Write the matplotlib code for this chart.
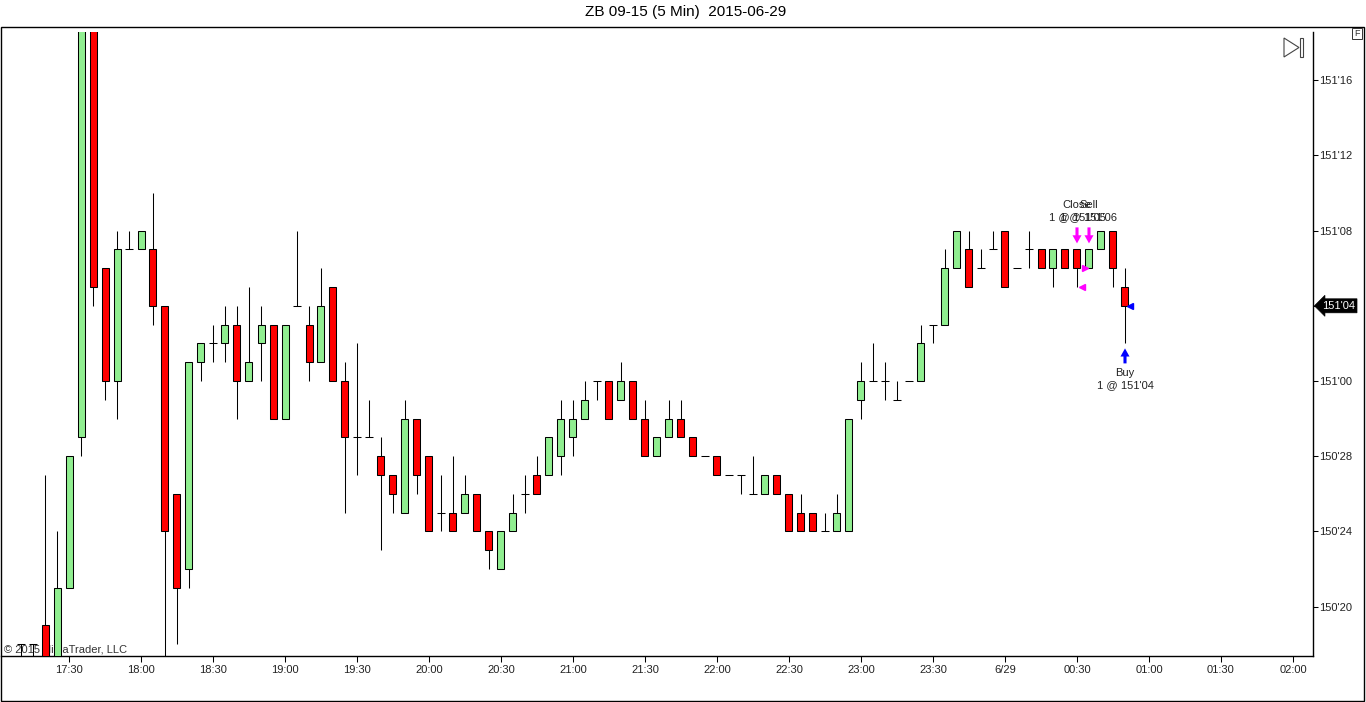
import matplotlib
matplotlib.use('Agg')
import matplotlib.pyplot as plt
from matplotlib.patches import Rectangle, Polygon
import matplotlib.transforms as mtransforms

plt.rcParams['font.family'] = ['Liberation Sans', 'DejaVu Sans']

TITLE = "ZB 09-15 (5 Min)  2015-06-29"
COPYRIGHT = "\u00a9 2015 NinjaTrader, LLC"

# 5-minute bars, prices in 1/32 ticks above 150'00
times = ["17:10", "17:15", "17:20", "17:25", "17:30", "17:35", "17:40", "17:45", "17:50", "17:55",
         "18:00", "18:05", "18:10", "18:15", "18:20", "18:25", "18:30", "18:35", "18:40", "18:45",
         "18:50", "18:55", "19:00", "19:05", "19:10", "19:15", "19:20", "19:25", "19:30", "19:35",
         "19:40", "19:45", "19:50", "19:55", "20:00", "20:05", "20:10", "20:15", "20:20", "20:25",
         "20:30", "20:35", "20:40", "20:45", "20:50", "20:55", "21:00", "21:05", "21:10", "21:15",
         "21:20", "21:25", "21:30", "21:35", "21:40", "21:45", "21:50", "21:55", "22:00", "22:05",
         "22:10", "22:15", "22:20", "22:25", "22:30", "22:35", "22:40", "22:45", "22:50", "22:55",
         "23:00", "23:05", "23:10", "23:15", "23:20", "23:25", "23:30", "23:35", "23:40", "23:45",
         "23:50", "23:55", "00:00", "00:05", "00:10", "00:15", "00:20", "00:25", "00:30", "00:35",
         "00:40", "00:45", "00:50"]
opens = [18, 18, 19, 16, 21, 29, 52, 38, 32, 39,
         39, 39, 36, 26, 22, 33, 34, 34, 35, 32,
         34, 35, 30, 36, 35, 33, 37, 32, 29, 29,
         28, 27, 25, 30, 28, 25, 25, 25, 26, 24,
         22, 24, 26, 27, 27, 28, 29, 30, 32, 32,
         31, 32, 30, 28, 29, 30, 29, 28, 28, 27,
         27, 26, 26, 27, 26, 25, 25, 24, 24, 24,
         31, 32, 32, 31, 32, 32, 35, 35, 38, 39,
         38, 39, 40, 38, 39, 39, 38, 39, 39, 38,
         39, 40, 37]
highs = [18, 18, 27, 24, 28, 53, 53, 38, 40, 40,
         40, 42, 36, 26, 33, 34, 35, 36, 36, 37,
         36, 35, 35, 40, 36, 38, 37, 33, 34, 31,
         29, 27, 31, 30, 28, 27, 28, 27, 26, 24,
         24, 26, 27, 28, 29, 31, 31, 32, 32, 32,
         33, 32, 31, 29, 31, 31, 29, 28, 28, 27,
         27, 28, 27, 27, 26, 26, 25, 25, 26, 30,
         33, 34, 33, 32, 32, 35, 35, 39, 40, 40,
         39, 40, 40, 38, 40, 39, 39, 39, 39, 39,
         40, 40, 38]
lows = [16, 16, 15, 16, 21, 28, 36, 31, 30, 39,
        39, 35, 16, 18, 21, 32, 33, 33, 30, 32,
        32, 30, 30, 36, 32, 33, 32, 25, 27, 29,
        23, 25, 25, 26, 24, 24, 24, 25, 24, 22,
        22, 24, 25, 26, 27, 27, 28, 30, 31, 30,
        31, 30, 28, 28, 29, 29, 28, 28, 27, 27,
        26, 26, 26, 26, 24, 24, 24, 24, 24, 24,
        30, 32, 31, 31, 32, 32, 34, 35, 38, 37,
        38, 39, 37, 38, 38, 38, 37, 38, 37, 38,
        39, 37, 34]
closes = [18, 18, 16, 21, 28, 52, 37, 32, 39, 39,
          40, 36, 24, 21, 33, 34, 34, 35, 32, 33,
          35, 30, 35, 36, 33, 36, 32, 29, 29, 29,
          27, 26, 30, 27, 24, 25, 24, 26, 24, 23,
          24, 25, 26, 26, 29, 30, 30, 31, 32, 30,
          32, 30, 28, 29, 30, 29, 28, 28, 27, 27,
          27, 26, 27, 26, 24, 24, 24, 24, 25, 30,
          32, 32, 32, 31, 32, 34, 35, 38, 40, 37,
          38, 39, 37, 38, 39, 38, 39, 38, 38, 39,
          40, 38, 36]

x_tick_labels = ["17:30", "18:00", "18:30", "19:00", "19:30", "20:00", "20:30", "21:00", "21:30",
                 "22:00", "22:30", "23:00", "23:30", "6/29", "00:30", "01:00", "01:30", "02:00"]
x_tick_times = ["17:30", "18:00", "18:30", "19:00", "19:30", "20:00", "20:30", "21:00", "21:30",
                "22:00", "22:30", "23:00", "23:30", "00:00", "00:30", "01:00", "01:30", "02:00"]
y_tick_values = [20, 24, 28, 32, 36, 40, 44, 48]

exec_names = ["Close", "Sell", "Buy"]
exec_times = ["00:30", "00:35", "00:50"]
exec_prices = [37, 38, 36]
exec_colors = ["#FF00FF", "#FF00FF", "#0000FF"]

GREEN = "#90EE90"
RED = "#FF0000"


def to_min(s):
    h, m = map(int, s.split(":"))
    if h < 12:
        h += 24
    return h * 60 + m - (17 * 60 + 30)


def fmt_price(t):
    return f"{150 + t // 32}'{t % 32:02d}"


W, H = 1366, 702
fig = plt.figure(figsize=(W / 100, H / 100), dpi=100)


def fx(px):
    return px / W


def fy(py):
    return 1 - py / H


ax = fig.add_axes([fx(1), fy(656), fx(1313) - fx(1), fy(32) - fy(656)])
PXM = 12 / 5.0  # pixels per minute
PXT = 18.8      # pixels per tick
ax.set_xlim(-68 / PXM, 1244 / PXM)
ax.set_ylim(32 - (656 - 381) / PXT, 32 + (381 - 32) / PXT)

xs = [to_min(t) for t in times]
bw = 7 / PXM
dw = 8 / PXM
LW = 0.75

for x, o, h, l, c in zip(xs, opens, highs, lows, closes):
    if h > l:
        ax.vlines(x, l, h, color="black", lw=LW, zorder=2)
    if o == c:
        ax.hlines(o, x - dw / 2, x + dw / 2, color="black", lw=LW, zorder=3)
    else:
        ax.add_patch(Rectangle((x - bw / 2, min(o, c)), bw, abs(c - o),
                               facecolor=GREEN if c > o else RED,
                               edgecolor="black", lw=LW, zorder=3))

# executions
bar_index = {t: i for i, t in enumerate(times)}
for name, t, p, col in zip(exec_names, exec_times, exec_prices, exec_colors):
    i = bar_index[t]
    x = to_min(t)
    if name == "Buy":
        base = lows[i]
        tip, tail, l1, l2 = -5, -20, -30, -42
        mk, mx = "<", 5
    else:
        base = highs[i]
        tip, tail, l1, l2 = 6, 22, 44, 32
        mk, mx = (">", -4) if name == "Sell" else ("<", 5)
    tr_tip = mtransforms.offset_copy(ax.transData, fig=fig, x=0, y=tip, units="dots")
    ax.annotate("", xy=(x, base), xycoords=tr_tip,
                xytext=(0, tail - tip), textcoords="offset pixels",
                arrowprops=dict(arrowstyle="simple,head_length=0.45,head_width=0.5,tail_width=0.17",
                                color=col, lw=0, mutation_scale=13, shrinkA=0, shrinkB=0),
                annotation_clip=False, zorder=6)
    ax.annotate(name, xy=(x, base), xycoords="data", xytext=(0, l1), textcoords="offset pixels",
                ha="center", va="center", fontsize=8, color="#222222", zorder=6)
    ax.annotate(f"1 @ {fmt_price(p)}", xy=(x, base), xycoords="data", xytext=(0, l2),
                textcoords="offset pixels", ha="center", va="center", fontsize=8,
                color="#222222", zorder=6)
    tr_m = mtransforms.offset_copy(ax.transData, fig=fig, x=mx, y=0, units="dots")
    ax.plot([x], [p], marker=mk, markersize=4.5, color=col, transform=tr_m,
            linestyle="none", zorder=6, clip_on=False)

# axes styling
for side in ["top", "left"]:
    ax.spines[side].set_visible(False)
ax.spines["bottom"].set_linewidth(1)
ax.spines["right"].set_linewidth(1)
ax.yaxis.tick_right()
ax.set_yticks(y_tick_values)
ax.set_yticklabels([fmt_price(v) for v in y_tick_values])
ax.set_xticks([to_min(t) for t in x_tick_times])
ax.set_xticklabels(x_tick_labels)
ax.tick_params(axis="x", direction="out", length=4.5, width=0.75, labelsize=8,
               labelcolor="#222222", pad=2)
ax.tick_params(axis="y", direction="out", length=3.6, width=0.75, labelsize=8,
               labelcolor="#222222", pad=1)

# last price marker
last = closes[-1]
ax.annotate(fmt_price(last), xy=(1, last), xycoords=("axes fraction", "data"),
            xytext=(9, 0), textcoords="offset pixels", ha="left", va="center",
            fontsize=8, color="white", zorder=10, annotation_clip=False,
            bbox=dict(boxstyle="larrow,pad=0.18", fc="black", ec="black", lw=0.5))

ax.text((4 - 1) / 1312, (656 - 650) / 624, COPYRIGHT, transform=ax.transAxes,
        ha="left", va="center", fontsize=8, color="#333333", zorder=1)

# outer frame and header
fig.add_artist(Rectangle((fx(0.5), fy(701)), fx(1364) - fx(0.5), fy(27) - fy(701),
                         transform=fig.transFigure, fill=False, ec="black", lw=1))
fig.text(fx(686), fy(12), TITLE, ha="center", va="center", fontsize=11, color="black")

# 'F' box
fig.add_artist(Rectangle((fx(1352), fy(39)), fx(10), fy(28) - fy(39), transform=fig.transFigure,
                         fill=False, ec="#333333", lw=0.7))
fig.text(fx(1357), fy(33.5), "F", ha="center", va="center", fontsize=6.5, color="#333333")

# go-to-end icon
fig.add_artist(Polygon([(fx(1284), fy(38)), (fx(1284), fy(57)), (fx(1299), fy(47.5))], closed=True,
                       transform=fig.transFigure, fill=False, ec="#444444", lw=0.8))
fig.add_artist(Rectangle((fx(1300), fy(57)), fx(3), fy(38) - fy(57), transform=fig.transFigure,
                         fill=False, ec="#444444", lw=0.8))

fig.savefig("out.png", dpi=100, facecolor="white")
